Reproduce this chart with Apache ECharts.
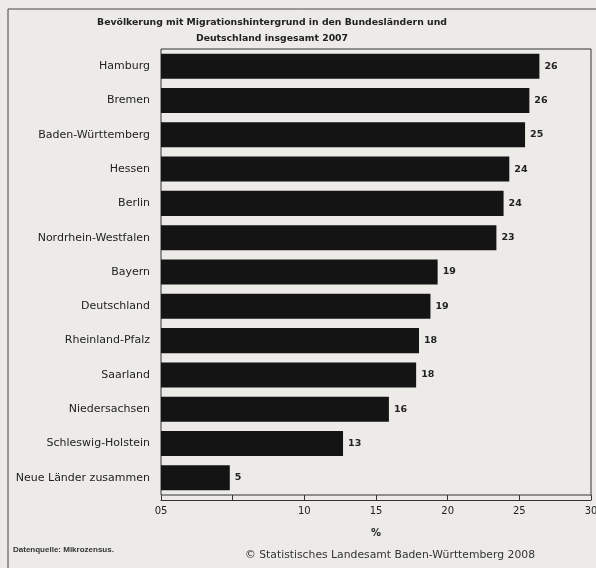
<!DOCTYPE html>
<html>
<head>
<meta charset="utf-8">
<script src="https://cdn.jsdelivr.net/npm/echarts@6/dist/echarts.min.js"></script>
<style>
  html, body { margin: 0; padding: 0; background: #ecebe8; }
  #chart { width: 596px; height: 568px; }
</style>
</head>
<body>
<div id="chart"></div>
<script>
const categories = [
  'Hamburg', 'Bremen', 'Baden-Württemberg', 'Hessen', 'Berlin',
  'Nordrhein-Westfalen', 'Bayern', 'Deutschland', 'Rheinland-Pfalz',
  'Saarland', 'Niedersachsen', 'Schleswig-Holstein', 'Neue Länder zusammen'
]
const values = [26.4, 25.7, 25.4, 24.3, 23.9, 23.4, 19.3, 18.8, 18.0, 17.8, 15.9, 12.7, 4.8]
const xTicks = { 0: '05', 5: '' }

const chart = echarts.init(document.getElementById('chart'))
const font = '"DejaVu Sans", Verdana, sans-serif'

chart.setOption({
  backgroundColor: '#ecebe8',
  textStyle: { fontFamily: font },
  title: [
    {
      text: 'Bevölkerung mit Migrationshintergrund in den Bundesländern und\nDeutschland insgesamt 2007',
      left: 272,
      top: 15,
      padding: 0,
      textAlign: 'center',
      textStyle: { fontSize: 9.3, fontWeight: 'bold', color: '#222', lineHeight: 16, fontFamily: font }
    },
    {
      text: 'Datenquelle: Mikrozensus.',
      left: 13,
      top: 546,
      padding: 0,
      textStyle: { fontSize: 8, fontWeight: 'bold', color: '#333', fontFamily: '"Liberation Sans", Arial, sans-serif' }
    },
    {
      text: '© Statistisches Landesamt Baden-Württemberg 2008',
      left: 390,
      top: 550,
      padding: 0,
      textAlign: 'center',
      textStyle: { fontSize: 10.8, fontWeight: 'normal', color: '#333', fontFamily: font }
    }
  ],
  graphic: [
    {
      type: 'rect',
      shape: { x: 8, y: 9, width: 600, height: 600 },
      style: { fill: 'none', stroke: '#444', lineWidth: 1 },
      silent: true
    }
  ],
  grid: {
    left: 161,
    right: 5,
    top: 49,
    bottom: 73,
    outerBoundsMode: 'none',
    show: true,
    borderColor: '#333',
    borderWidth: 1
  },
  xAxis: {
    type: 'value',
    min: 0,
    max: 30,
    interval: 5,
    offset: 5,
    name: '%',
    nameLocation: 'middle',
    nameGap: 28,
    nameTextStyle: { fontSize: 10, fontWeight: 'bold', color: '#222' },
    axisLine: { show: true, lineStyle: { color: '#333', width: 1 } },
    axisTick: { show: true, inside: true, length: 5, lineStyle: { color: '#333' } },
    splitLine: { show: false },
    axisLabel: {
      fontSize: 10,
      color: '#222',
      margin: 6,
      formatter: v => (v in xTicks ? xTicks[v] : String(v))
    }
  },
  yAxis: {
    type: 'category',
    data: categories,
    inverse: true,
    axisLine: { show: false },
    axisTick: { show: false },
    axisLabel: { fontSize: 11, color: '#222', margin: 11 }
  },
  series: [
    {
      type: 'bar',
      data: values,
      barCategoryGap: '27%',
      itemStyle: { color: '#141414' },
      label: {
        show: true,
        position: 'right',
        distance: 5,
        fontSize: 9.5,
        fontWeight: 'bold',
        color: '#222',
        formatter: p => Math.round(p.value)
      }
    }
  ]
})
</script>
</body>
</html>
